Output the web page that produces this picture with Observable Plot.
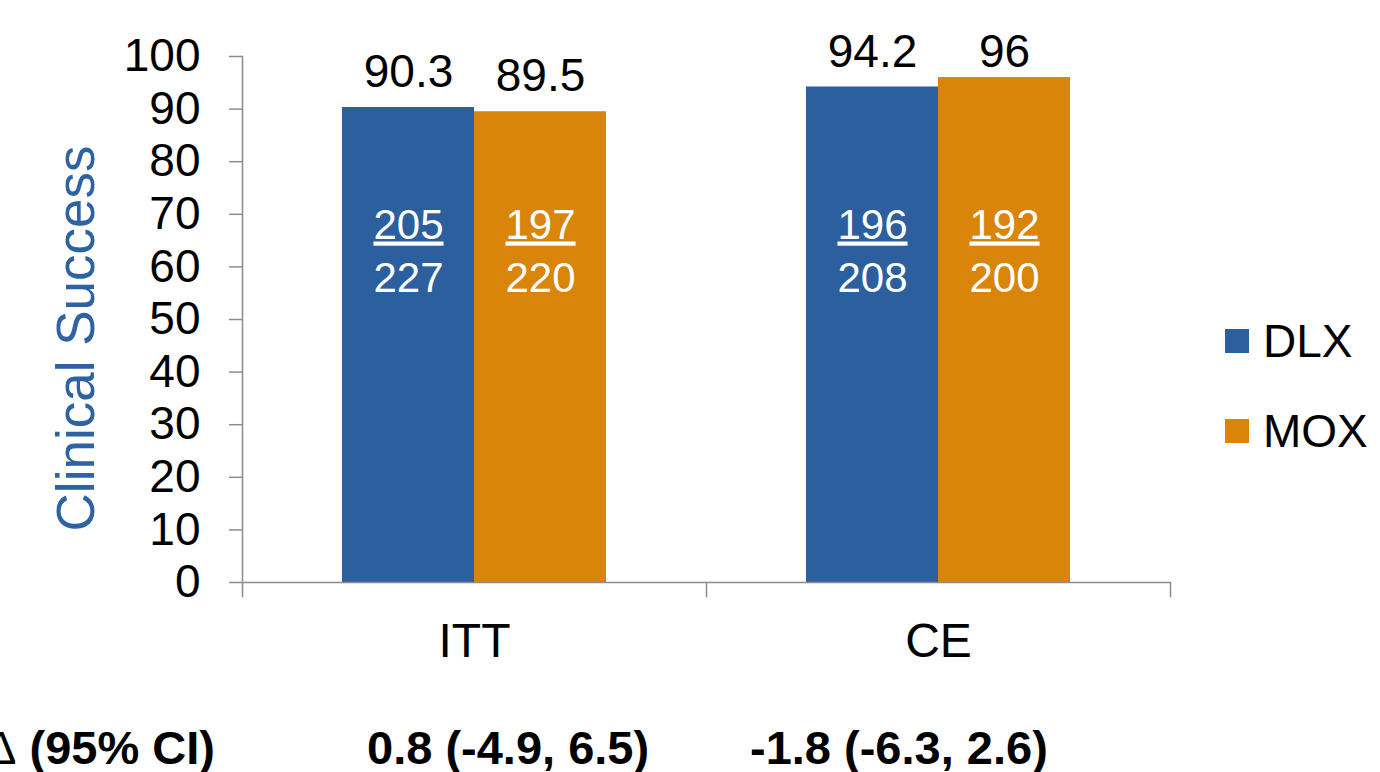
<!DOCTYPE html>
<html>
<head>
<meta charset="utf-8">
<script src="https://cdn.jsdelivr.net/npm/d3@7"></script>
<script src="https://cdn.jsdelivr.net/npm/@observablehq/plot@0.6"></script>
<style>
  body { margin: 0; background: #fff; font-family: "Liberation Sans", Arial, sans-serif; }
  #wrap { position: relative; width: 1380px; height: 772px; overflow: hidden; }
  #chart { position: absolute; left: 0; top: 0; }
  #chart svg g[aria-description="successes"] text {
    text-decoration: underline;
    text-decoration-thickness: 3px;
    text-underline-offset: 7px;
  }
  .legend-row { position: absolute; left: 1225px; display: flex; align-items: center; font-size: 46px; line-height: 46px; color: #000; }
  .legend-row .swatch { width: 24px; height: 24px; margin-right: 14px; }
  .ci { position: absolute; top: 725px; font-size: 47px; line-height: 46px; font-weight: bold; white-space: nowrap; color: #000; }
  .ci .delta { font-weight: normal; }
</style>
</head>
<body>
<div id="wrap">
  <div id="chart"></div>
  <div id="legend"></div>
  <div id="ci-row"></div>
</div>
<script>
// Analysis populations and treatment arms
const categories = ["ITT", "CE"];
const treatments = ["DLX", "MOX"];
const armColors = ["#2C5F9E", "#D8850A"];

// Clinical success rate (%) per population
const dlxRates = [90.3, 94.2];
const moxRates = [89.5, 96];

// Responders / patients evaluated
const dlxSuccesses = [205, 196];
const dlxTotals = [227, 208];
const moxSuccesses = [197, 192];
const moxTotals = [220, 200];

// Treatment difference with 95% confidence interval
const ciHeader = "(95% CI)";
const ciLabels = ["0.8 (-4.9, 6.5)", "-1.8 (-6.3, 2.6)"];

const yTicks = [0, 10, 20, 30, 40, 50, 60, 70, 80, 90, 100];

const rows = categories.flatMap((category, i) => [
  {category, treatment: "DLX", rate: dlxRates[i], successes: dlxSuccesses[i], total: dlxTotals[i]},
  {category, treatment: "MOX", rate: moxRates[i], successes: moxSuccesses[i], total: moxTotals[i]}
]);

const axisGrey = "#8C8C8C";
const font = "Liberation Sans, Arial, sans-serif";

const chart = Plot.plot({
  width: 1380,
  height: 680,
  marginLeft: 241,
  marginRight: 210,
  marginTop: 56,
  marginBottom: 84,
  style: {fontFamily: font, background: "transparent", overflow: "visible", color: "#000"},
  fx: {domain: categories, padding: 0, label: null},
  x: {domain: treatments, paddingInner: 0, paddingOuter: 0.75, axis: null},
  y: {domain: [0, 100], insetBottom: 14},
  color: {domain: treatments, range: armColors},
  marks: [
    Plot.barY(rows, {fx: "category", x: "treatment", y: "rate", fill: "treatment"}),
    // category axis line and boundary ticks
    Plot.ruleY([0], {stroke: axisGrey, strokeWidth: 1.5}),
    Plot.frame({anchor: "right", insetTop: 526, stroke: axisGrey, strokeWidth: 1.5}),
    Plot.frame({anchor: "left", facetAnchor: "left", stroke: axisGrey, strokeWidth: 1.5}),
    Plot.axisY({
      ticks: yTicks, tickSize: 13, tickPadding: 29, fontSize: 46,
      stroke: axisGrey, strokeWidth: 1.5, fill: "#000", label: null
    }),
    Plot.axisFx({anchor: "bottom", tickSize: 0, tickPadding: 26, fontSize: 48, fill: "#000", label: null}),
    Plot.text(["Clinical Success"], {
      frameAnchor: "left", facetAnchor: "left", rotate: -90,
      textAnchor: "middle", lineAnchor: "bottom", dx: -149, dy: 12,
      fontSize: 53, fill: "#2E63A3"
    }),
    // rate labels above the bars, kept inside the top of the chart area
    Plot.text(rows, {
      fx: "category", x: "treatment", y: "rate", text: d => String(d.rate),
      lineAnchor: "bottom", dy: -21, fontSize: 46, fill: "#000",
      render(index, scales, values, dimensions, context, next) {
        const floor = dimensions.marginTop + 31;
        values.y = Array.from(values.y, v => Math.max(v, floor));
        return next(index, scales, values, dimensions, context);
      }
    }),
    // responders / evaluated, written as a fraction inside each bar
    Plot.text(rows, {
      fx: "category", x: "treatment", text: "successes", frameAnchor: "top",
      lineAnchor: "bottom", dy: 182, fontSize: 42, fill: "#fff", ariaDescription: "successes"
    }),
    Plot.text(rows, {
      fx: "category", x: "treatment", text: "total", frameAnchor: "top",
      lineAnchor: "bottom", dy: 235, fontSize: 42, fill: "#fff", ariaDescription: "totals"
    })
  ]
});
document.getElementById("chart").append(chart);

// legend
const legend = document.getElementById("legend");
treatments.forEach((t, i) => {
  const row = document.createElement("div");
  row.className = "legend-row";
  row.style.top = (318 + i * 90) + "px";
  const sw = document.createElement("span");
  sw.className = "swatch";
  sw.style.background = armColors[i];
  const label = document.createElement("span");
  label.textContent = t;
  row.append(sw, label);
  legend.append(row);
});

// difference row under the chart
const ciRow = document.getElementById("ci-row");
const head = document.createElement("div");
head.className = "ci";
head.style.right = (1380 - 215) + "px";
head.innerHTML = '<span class="delta">\u0394</span> ' + ciHeader;
ciRow.append(head);
const ciLefts = [367, 750];
ciLabels.forEach((s, i) => {
  const d = document.createElement("div");
  d.className = "ci";
  d.style.left = ciLefts[i] + "px";
  d.textContent = s;
  ciRow.append(d);
});
</script>
</body>
</html>
